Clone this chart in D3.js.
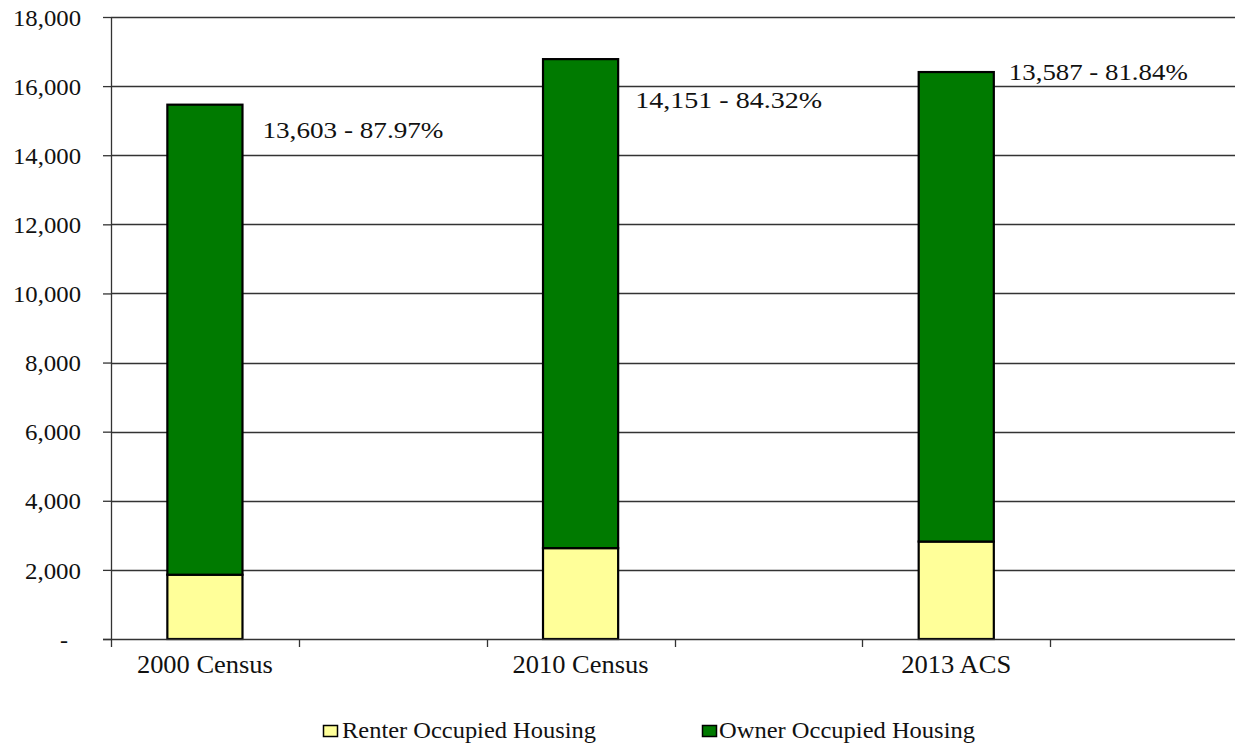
<!DOCTYPE html>
<html>
<head>
<meta charset="utf-8">
<script src="https://cdn.jsdelivr.net/npm/d3@7"></script>
<style>
  html, body { margin: 0; padding: 0; background: #fff; }
  svg { display: block; }
</style>
</head>
<body>
<svg id="chart" width="1235" height="745"></svg>
<script>
// ---- data ----
const categories = ["2000 Census", "2010 Census", "2013 ACS"];
const renter = [1860, 2630, 2820];
const owner = [13603, 14151, 13587];
const ownerLabels = ["13,603 - 87.97%", "14,151  - 84.32%", "13,587 - 81.84%"];
const seriesNames = ["Renter Occupied Housing", "Owner Occupied Housing"];
const yTicks = [0, 2000, 4000, 6000, 8000, 10000, 12000, 14000, 16000, 18000];

// ---- layout (not data) ----
const FONT = "Liberation Serif";
const colors = ["#FFFF99", "#007A00"];
const labelOffsets = [{dx: 20, dy: 33}, {dx: 17, dy: 49}, {dx: 15, dy: 8}];
const labelWidths = [181, 187, 179];
const catLabelWidths = [136, 136, 110];
const legendWidths = [254, 256];

const svg = d3.select("#chart");
const mLeft = 111, mRight = 1238, mTop = 17, mBottom = 639;

// each category occupies one slot followed by an empty slot
const slots = categories.flatMap(c => [c, c + "\u0000gap"]);
const x = d3.scaleBand().domain(slots).range([mLeft, mRight]).paddingInner(0).paddingOuter(0);
const barW = x.bandwidth() * 0.4;
const y = d3.scaleLinear().domain([0, 18000]).range([mBottom, mTop]);

// gridlines
svg.append("g").selectAll("line").data(yTicks.filter(d => d > 0)).join("line")
  .attr("x1", mLeft).attr("x2", 1235)
  .attr("y1", d => Math.round(y(d)) + 0.5).attr("y2", d => Math.round(y(d)) + 0.5)
  .attr("stroke", "#333").attr("stroke-width", 1.3);

// stacked bars
const stack = d3.stack().keys([0, 1]).value((d, k) => d[k]);
const rows = categories.map((c, i) => ({0: renter[i], 1: owner[i], cat: c}));
const stacked = stack(rows);
stacked.forEach((layer, li) => {
  svg.append("g").selectAll("rect").data(layer).join("rect")
    .attr("x", d => x(d.data.cat) + (x.bandwidth() - barW) / 2)
    .attr("width", barW)
    .attr("y", d => y(d[1]))
    .attr("height", d => y(d[0]) - y(d[1]))
    .attr("fill", colors[li])
    .attr("stroke", "#000").attr("stroke-width", 2.2);
});

// y axis
const yAxis = d3.axisLeft(y).tickValues(yTicks).tickSize(8).tickPadding(0)
  .tickFormat(d => d === 0 ? "-" : d3.format(",")(d));
const gy = svg.append("g").attr("transform", `translate(${mLeft},0)`).call(yAxis);
gy.attr("font-family", null).attr("font-size", null);
gy.select(".domain").remove();
gy.selectAll(".tick line").attr("stroke", "#333").attr("stroke-width", 1.3);
gy.selectAll(".tick text")
  .attr("x", d => d === 0 ? -43 : -30)
  .attr("dy", "0.34em")
  .style("font-family", FONT)
  .style("font-size", "24px")
  .attr("fill", "#111")
  .each(function(d) { if (d !== 0) d3.select(this).attr("textLength", d >= 10000 ? 68 : 56).attr("lengthAdjust", "spacingAndGlyphs"); });

// axis lines
svg.append("line").attr("x1", mLeft + 0.5).attr("x2", mLeft + 0.5).attr("y1", mTop).attr("y2", mBottom + 8)
  .attr("stroke", "#333").attr("stroke-width", 1.3);
svg.append("line").attr("x1", mLeft - 8).attr("x2", 1235).attr("y1", mBottom + 0.5).attr("y2", mBottom + 0.5)
  .attr("stroke", "#333").attr("stroke-width", 1.3);

// x ticks at slot boundaries
svg.append("g").selectAll("line").data(slots.slice(1)).join("line")
  .attr("x1", d => Math.round(x(d)) + 0.5).attr("x2", d => Math.round(x(d)) + 0.5)
  .attr("y1", mBottom).attr("y2", mBottom + 8)
  .attr("stroke", "#333").attr("stroke-width", 1.3);

// category labels
svg.append("g").selectAll("text").data(categories).join("text")
  .attr("x", (d, i) => x(d) + x.bandwidth() / 2 - catLabelWidths[i] / 2)
  .attr("y", 673)
  .attr("textLength", (d, i) => catLabelWidths[i]).attr("lengthAdjust", "spacingAndGlyphs")
  .style("font-family", FONT)
  .style("font-size", "25px")
  .attr("fill", "#111")
  .text(d => d);

// owner labels
svg.append("g").selectAll("text").data(categories).join("text")
  .attr("x", (d, i) => x(d) + (x.bandwidth() + barW) / 2 + labelOffsets[i].dx)
  .attr("y", (d, i) => y(renter[i] + owner[i]) + labelOffsets[i].dy)
  .attr("textLength", (d, i) => labelWidths[i]).attr("lengthAdjust", "spacingAndGlyphs")
  .style("font-family", FONT)
  .style("font-size", "23px")
  .attr("fill", "#111")
  .text((d, i) => ownerLabels[i]);

// legend
const legendX = [323, 702];
const lg = svg.append("g").selectAll("g").data(seriesNames).join("g")
  .attr("transform", (d, i) => `translate(${legendX[i]},725)`);
lg.append("rect").attr("x", 0.5).attr("y", 0.5).attr("width", 14).attr("height", 11)
  .attr("fill", (d, i) => colors[i]).attr("stroke", "#000").attr("stroke-width", 1.5);
lg.append("text").attr("x", (d, i) => i === 0 ? 19 : 17).attr("y", 13)
  .attr("textLength", (d, i) => legendWidths[i]).attr("lengthAdjust", "spacingAndGlyphs")
  .style("font-family", FONT)
  .style("font-size", "23px")
  .attr("fill", "#111")
  .text(d => d);
</script>
</body>
</html>
